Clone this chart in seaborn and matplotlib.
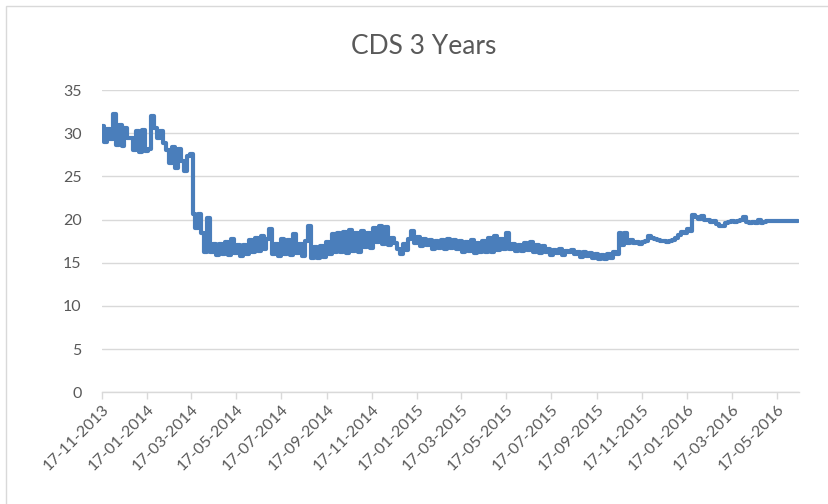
import matplotlib
matplotlib.use("Agg")
import matplotlib.pyplot as plt
import matplotlib.dates as mdates
from matplotlib.patches import Rectangle
import numpy as np
import pandas as pd
import seaborn as sns

# CDS 3-year spread, one observation every 4 calendar days
start_date = "2013-11-17"
step_days = 4
cds_values = [
    30.8, 29.0, 30.5, 29.3, 32.2, 28.6, 30.9, 28.5, 30.6, 29.4,
    29.4, 28.0, 30.2, 27.8, 30.4, 27.9, 28.2, 32.0, 30.6, 29.4,
    30.2, 28.9, 28.0, 26.6, 28.4, 26.0, 28.2, 26.8, 25.6, 27.4,
    27.6, 20.6, 19.0, 20.6, 18.4, 16.3, 20.2, 16.2, 17.2, 15.9,
    17.2, 16.0, 17.4, 15.9, 17.8, 16.1, 17.0, 15.8, 17.1, 16.0,
    17.6, 16.2, 17.9, 16.4, 18.1, 16.6, 17.8, 18.9, 16.0, 17.2,
    15.8, 17.8, 16.0, 17.6, 15.9, 18.3, 16.1, 17.2, 15.8, 17.5,
    19.3, 15.6, 16.8, 15.5, 16.9, 15.7, 17.4, 16.0, 18.3, 16.2,
    18.4, 16.3, 18.6, 16.1, 18.8, 16.4, 18.5, 16.2, 18.7, 16.8,
    18.5, 16.7, 19.0, 17.4, 19.2, 17.2, 19.1, 17.0, 17.9, 17.3,
    16.6, 16.0, 17.2, 16.5, 17.8, 18.7, 17.3, 18.0, 16.9, 17.8,
    17.0, 17.6, 16.6, 17.5, 16.7, 17.6, 16.6, 17.8, 16.7, 17.6,
    16.6, 17.5, 16.2, 17.4, 16.4, 17.6, 16.1, 17.3, 16.3, 17.5,
    16.2, 17.9, 16.3, 18.1, 16.5, 17.8, 16.6, 18.4, 16.6, 17.2,
    16.4, 17.1, 16.4, 17.3, 16.5, 17.4, 16.2, 17.0, 16.1, 16.9,
    16.2, 16.6, 15.9, 16.5, 16.1, 16.6, 15.9, 16.4, 16.2, 16.5,
    16.0, 16.3, 15.7, 16.2, 15.8, 16.1, 15.5, 16.0, 15.4, 15.9,
    15.4, 16.0, 15.5, 16.3, 16.0, 18.5, 17.0, 18.4, 17.3, 17.6,
    17.3, 17.4, 17.2, 17.4, 17.5, 18.1, 17.9, 17.7, 17.6, 17.5,
    17.5, 17.4, 17.5, 17.6, 17.9, 18.2, 18.6, 18.4, 18.9, 18.7,
    20.5, 20.3, 20.1, 20.4, 19.9, 20.0, 19.7, 19.8, 19.5, 19.3,
    19.2, 19.6, 19.7, 19.8, 19.7, 19.8, 19.9, 20.3, 19.7, 19.6,
    19.7, 19.6, 20.0, 19.6, 19.7, 19.8, 19.8, 19.8, 19.8, 19.8,
    19.8, 19.8, 19.8, 19.8, 19.8, 19.8,
]
y_ticks = [0, 5, 10, 15, 20, 25, 30, 35]
title_text = "CDS 3 Years"

dates = pd.date_range(start_date, periods=len(cds_values), freq=f"{step_days}D")
df = pd.DataFrame({"date": dates, "cds": cds_values})

sns.set_theme(style="white")
plt.rcParams["font.family"] = ["Lato", "DejaVu Sans"]

text_color = "#595959"
grid_color = "#d9d9d9"
line_color = "#4a7ebb"

fig = plt.figure(figsize=(8.29, 5.04), dpi=100)
fig.patch.set_facecolor("white")
# light frame around the chart area
fig.patches.append(Rectangle((6 / 829, -0.05), 1.1, 1.05 - 6 / 504,
                             transform=fig.transFigure, fill=False,
                             edgecolor=grid_color, linewidth=1.0))

ax = fig.add_axes([102.3 / 829, 1 - 392.3 / 504, (799 - 102.3) / 829, (392.3 - 90) / 504])

sns.lineplot(data=df, x="date", y="cds", ax=ax, color=line_color,
             linewidth=3.0, drawstyle="steps-mid",
             solid_joinstyle="round", solid_capstyle="round")

ax.set_ylim(0, 35)
ax.set_yticks(y_ticks)
ax.set_xlim(pd.Timestamp("2013-11-17"), pd.Timestamp("2016-06-16"))

# major ticks on the 17th of every second month
tick_dates = pd.date_range("2013-11-01", "2016-05-01", freq="2MS") + pd.Timedelta(days=16)
ax.set_xticks(tick_dates)
ax.xaxis.set_major_formatter(mdates.DateFormatter("%d-%m-%Y"))

ax.grid(axis="y", color=grid_color, linewidth=1.0)
ax.set_axisbelow(True)
for side in ["top", "right", "left"]:
    ax.spines[side].set_visible(False)
ax.spines["bottom"].set_color(grid_color)
ax.spines["bottom"].set_linewidth(1.0)

ax.tick_params(axis="x", bottom=True, length=5, width=1.0, color=grid_color,
               labelsize=11.5, labelcolor=text_color, pad=2)
ax.tick_params(axis="y", left=False, labelsize=11.5, labelcolor=text_color, pad=9)
for lbl in ax.get_xticklabels():
    lbl.set_rotation(45)
    lbl.set_ha("right")
    lbl.set_rotation_mode("anchor")

ax.set_xlabel("")
ax.set_ylabel("")
fig.text(0.511, 1 - 46 / 504, title_text, ha="center", va="center",
         fontsize=19, color=text_color)

fig.savefig("out.png", dpi=100, facecolor="white")
